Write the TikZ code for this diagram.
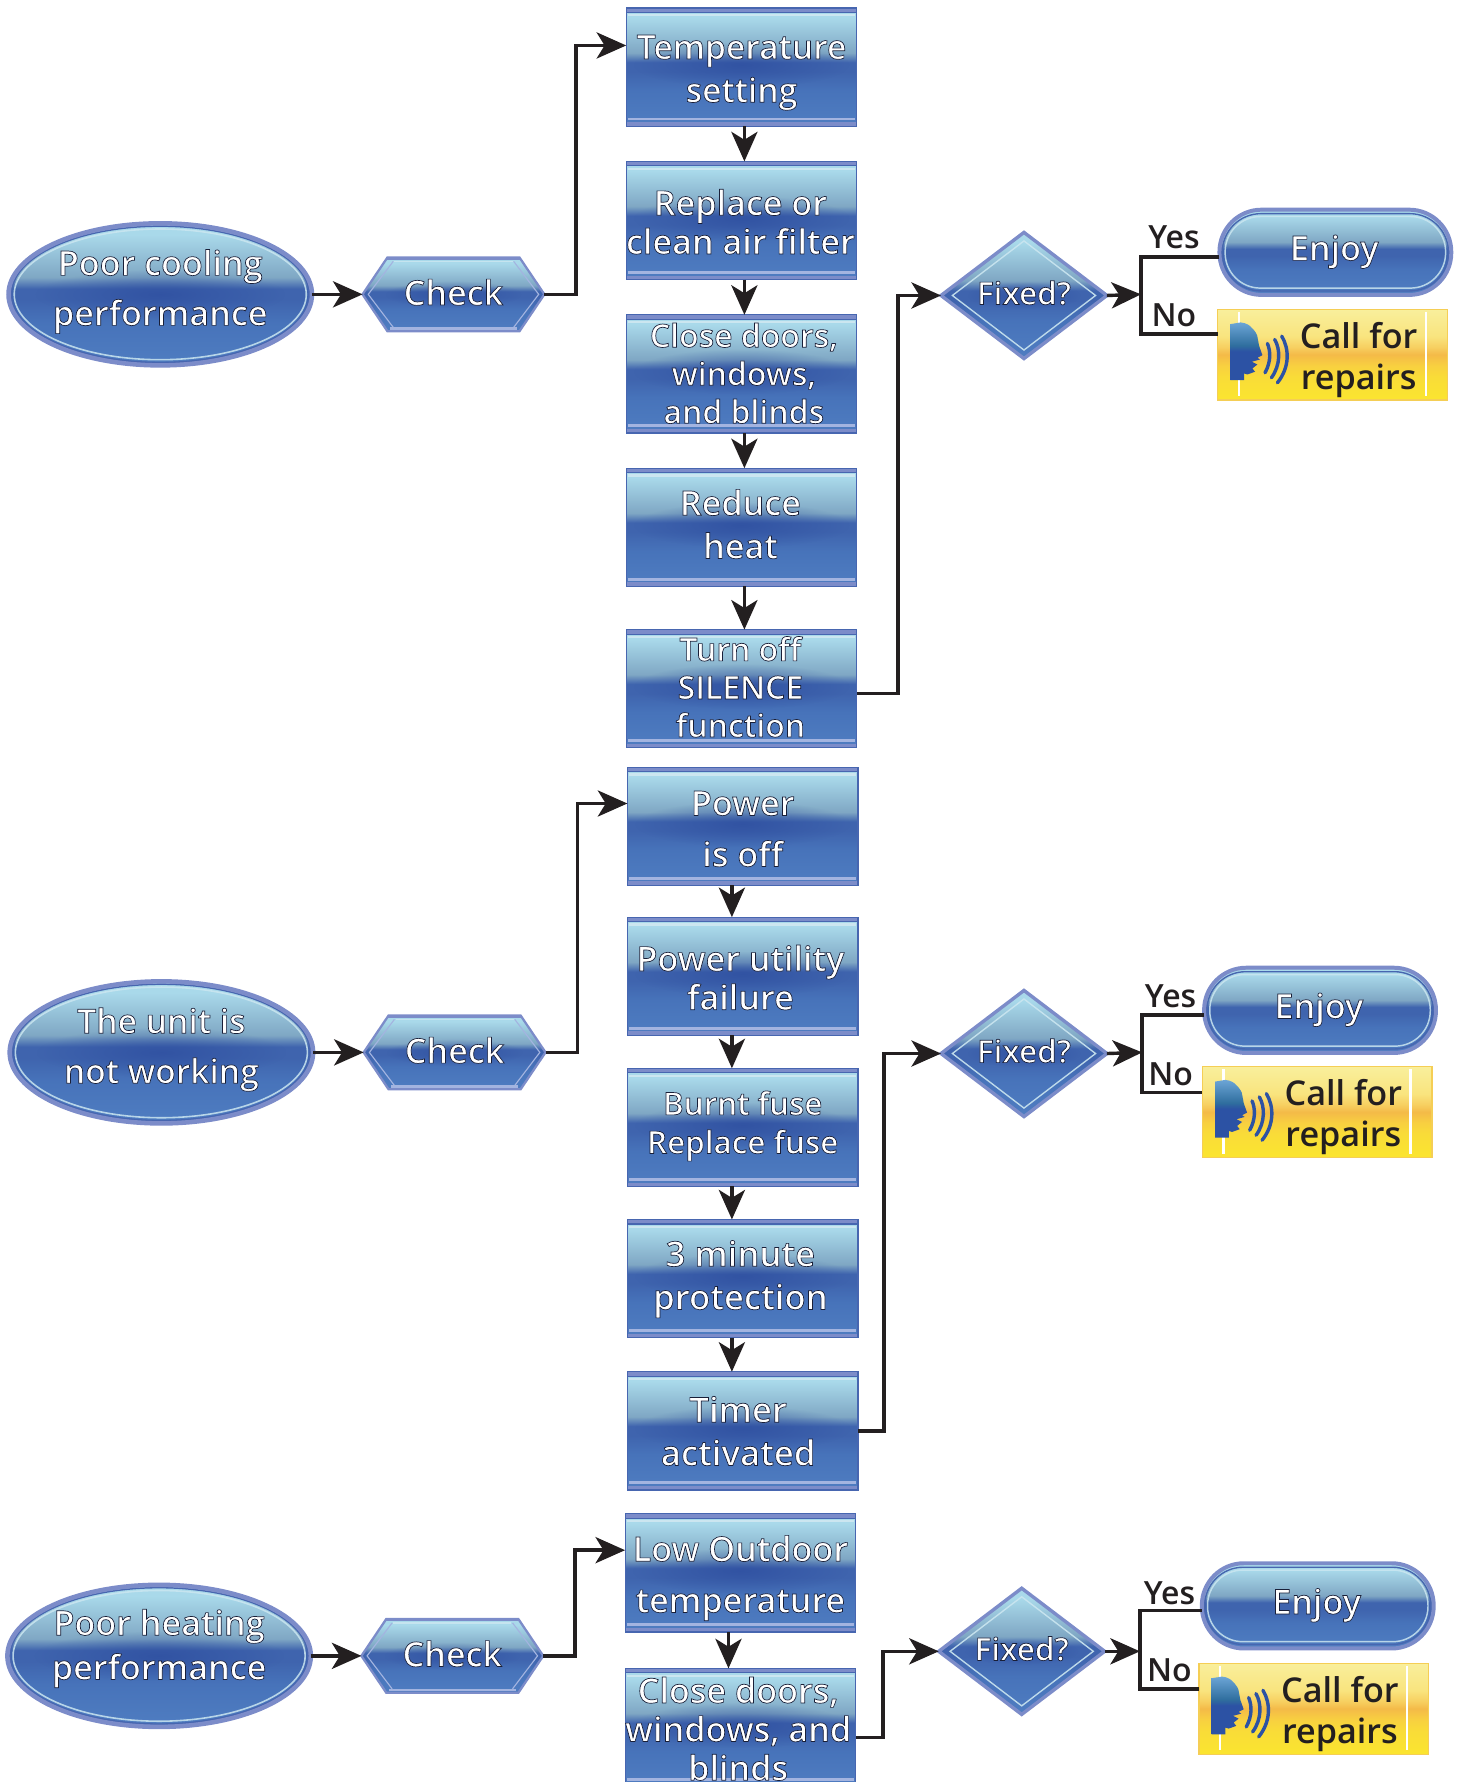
\documentclass[tikz,border=0pt]{standalone}
\usepackage{fontspec}
\setmainfont{Open Sans}
\IfFontExistsTF{Open Sans SemiBold}{\newfontfamily\gf[Scale=0.97]{Open Sans SemiBold}}{\IfFontExistsTF{Open Sans Semibold}{\newfontfamily\gf[Scale=0.97]{Open Sans Semibold}}{\newfontfamily\gf{Open Sans}}}
\usetikzlibrary{arrows.meta,shapes.geometric,shapes.symbols,fadings}
\definecolor{ink}{HTML}{231F20}
\definecolor{band}{HTML}{7C8CC9}
\definecolor{rim}{HTML}{4766B0}
\definecolor{hitop}{HTML}{CBE6F0}
\definecolor{hibot}{HTML}{A3B4E0}
\definecolor{blob}{HTML}{2C4C9E}
\definecolor{gA}{HTML}{A9D9EA}
\definecolor{gB}{HTML}{7FA7C4}
\definecolor{gC}{HTML}{3F64AE}
\definecolor{gD}{HTML}{4773BA}
\definecolor{gE}{HTML}{4F7DC1}
\definecolor{yA}{HTML}{F9EF9C}
\definecolor{yB}{HTML}{F9E47E}
\definecolor{yC}{HTML}{F4BA48}
\definecolor{yC2}{HTML}{F7CF60}
\definecolor{yD}{HTML}{F9DC38}
\definecolor{yD2}{HTML}{F8D040}
\definecolor{yE}{HTML}{FBE52F}
\definecolor{yRim}{HTML}{F5CE55}
\definecolor{hA}{HTML}{6CA5D6}
\definecolor{hB}{HTML}{2F6E9E}
\definecolor{hC}{HTML}{2C52A4}
\pgfdeclareverticalshading{gloss}{100bp}{color(0bp)=(gE);color(25bp)=(gE);color(40bp)=(gD);color(48bp)=(gC);color(52bp)=(gC);color(56bp)=(gB);color(71bp)=(gA);color(75bp)=(gA);color(100bp)=(gA)}
\pgfdeclareverticalshading{headgloss}{100bp}{color(0bp)=(hC);color(25bp)=(hC);color(50bp)=(hC);color(55bp)=(hB);color(75bp)=(hA);color(100bp)=(hA)}
\pgfdeclareverticalshading{yellowgloss}{100bp}{color(0bp)=(yE);color(25bp)=(yE);color(38bp)=(yD);color(44bp)=(yD2);color(50bp)=(yC);color(54bp)=(yC2);color(60bp)=(yB);color(75bp)=(yA);color(100bp)=(yA)}
\tikzfading[name=blobfade,inner color=transparent!30,outer color=transparent!100]
\newcommand\outl[1]{\special{pdf:code q 2 Tr 0.6 w 0.10 0.12 0.22 RG}#1\special{pdf:code Q}}
% [size], dx, dy (up), leading, lines
\newcommand\tx[5][31]{\raisebox{\dimexpr#3pt-6pt\relax}[0pt][0pt]{\makebox[0pt][c]{\hspace*{\dimexpr2\dimexpr#2pt\relax\relax}\color{white}\outl{\parbox[c]{300pt}{\centering\gf\fontsize{#1}{#4}\selectfont\rule{0pt}{22pt}#5\rule[-7pt]{0pt}{7pt}}}}}}
\newcommand\txb[4]{\raisebox{\dimexpr#2pt-6pt\relax}[0pt][0pt]{\makebox[0pt][c]{\hspace*{\dimexpr2\dimexpr#1pt\relax\relax}\color{ink}\parbox[c]{300pt}{\centering\gf\fontsize{31}{#3}\selectfont\rule{0pt}{22pt}#4\rule[-7pt]{0pt}{7pt}}}}}
\tikzset{
 boxbase/.style={shade,shading=gloss,inner sep=0pt,outer sep=0pt},
 stepbox/.style={boxbase,rectangle,draw=rim,line width=1pt,minimum width=203pt,minimum height=104pt,
  path picture={\begin{scope}[shift={(path picture bounding box.center)}]
   \fill[blob,path fading=blobfade] (0,-2) ellipse [x radius=95,y radius=20];
   \fill[band] (-102,-52) rectangle (102,-48.5);
   \fill[rim] (-102,-48.5) rectangle (102,-47.5);
   \fill[hitop] (-100,-46.5) rectangle (100,-44.5);
   \fill[band] (-102,52) rectangle (102,48.5);
   \fill[hibot] (-100,47) rectangle (100,44.5);
  \end{scope}}},
 oval/.style={boxbase,ellipse,draw=band,line width=4pt,minimum width=267pt,minimum height=125pt,
  path picture={\begin{scope}[shift={(path picture bounding box.center)}]
   \fill[blob,path fading=blobfade] (0,0) ellipse [x radius=110,y radius=22];
   \draw[rim,line width=1.3pt] (0,0) ellipse [x radius=131,y radius=60];
   \draw[hitop,line width=1.4pt,opacity=.85] (0,0) ellipse [x radius=128.5,y radius=57.5];
  \end{scope}}},
 hexbox/.style={boxbase,signal,signal to=east and west,signal pointer angle=112,draw=band,line width=2pt,minimum width=160pt,minimum height=65pt,
  path picture={\begin{scope}[shift={(path picture bounding box.center)}]
   \fill[blob,path fading=blobfade] (0,0) ellipse [x radius=60,y radius=12];
   \fill[band] (-70,-33) rectangle (70,-30.5);
   \fill[band] (-70,33) rectangle (70,31.5);
   \fill[hibot] (-56,29) rectangle (56,31);
   \draw[hitop,line width=1.2pt,opacity=.85] (-52,-29) -- (52,-29);
   \draw[hibot,line width=1pt] (-53,-29) -- (-75,0) -- (-53,29) (53,-29) -- (75,0) -- (53,29);
  \end{scope}}},
 decision/.style={boxbase,diamond,aspect=1.3,draw=band,line width=3pt,minimum width=146pt,minimum height=111pt,
  path picture={\begin{scope}[shift={(path picture bounding box.center)}]
   \fill[blob,path fading=blobfade] (0,0) ellipse [x radius=50,y radius=12];
   \draw[hitop,line width=1.2pt,opacity=.9] (0,-48) -- (63,0) -- (0,48) -- (-63,0) -- cycle;
  \end{scope}}},
 enjoybox/.style={boxbase,rectangle,rounded corners=37pt,draw=band,line width=3.5pt,minimum width=204pt,minimum height=75pt,
  path picture={\begin{scope}[shift={(path picture bounding box.center)}]
   \draw[rim,line width=1.2pt,rounded corners=34pt] (-99.5,-34) rectangle (99.5,34);
   \draw[hitop,line width=1.3pt,opacity=.85,rounded corners=31pt] (-97,-31.5) rectangle (97,31.5);
  \end{scope}}},
 callbox/.style={shade,shading=yellowgloss,inner sep=0pt,outer sep=0pt,rectangle,draw=yRim,line width=1pt,minimum width=202pt,minimum height=80pt,
  path picture={\begin{scope}[shift={(path picture bounding box.center)}]
   \draw[white,line width=2pt] (-82.5,-37.5) -- (-82.5,36.5) (82,-37.5) -- (82,36.5);
   \shade[shading=headgloss] (-89.9,22.5) -- (-89.9,-26.8) -- (-80.8,-28.3) .. controls (-76,-28) and (-72,-25) .. (-72,-24.5) .. controls (-68,-21) and (-66,-17) .. (-66.1,-15.7) -- (-64.6,-7.7) -- (-61.7,0.5) -- (-66.1,2.8) -- (-63.8,4.3) -- (-71.1,6.3) -- (-66.1,8.7) -- (-70.5,12.2) -- (-68.2,15.1) -- (-74.9,17.5) -- (-77.8,16.6) -- (-77.8,22.5) -- cycle;
   \draw[hC,line width=3pt,line cap=round] (-57.3,-9.8) .. controls (-54.5,-3) and (-54,6) .. (-59.4,16)
     (-50.9,-13.3) .. controls (-46,-5) and (-45.5,9) .. (-53.8,20.4)
     (-44.7,-16.2) .. controls (-38,-5) and (-37.5,11) .. (-48.5,24.8);
  \end{scope}}},
 link/.style={draw=ink,line width=3pt,-{Stealth[length=26pt,width=23pt,inset=7pt]}},
 wire/.style={draw=ink,line width=3pt},
 answer/.style={text=ink,font=\gf\fontsize{29}{30}\selectfont,inner sep=0pt,outer sep=0pt}
}
\begin{document}
\begin{tikzpicture}[x=1pt,y=-1pt]
\useasboundingbox (0,0) rectangle (1285.5,1568);
\clip (0,0) rectangle (1285.5,1568);
% group 1
\node[oval] (o1) at (141,259) {\tx{0}{6}{44}{Poor cooling\\performance}};
\node[hexbox] (k1) at (399,259) {\tx{0}{2}{30}{Check}};
\node[stepbox] (a1) at (652.5,59) {\tx[30.5]{0}{-1}{38}{Temperature\\setting}};
\node[stepbox] (a2) at (652.5,194) {\tx{-1}{-1}{34}{Replace or\\clean air filter}};
\node[stepbox] (a3) at (652.5,329) {\tx[29]{2}{1}{33.5}{Close doors,\\windows,\\and blinds}};
\node[stepbox] (a4) at (652.5,464) {\tx{-1}{3}{38}{Reduce\\heat}};
\node[stepbox] (a5) at (652.5,606) {\tx[29]{-1}{2}{33.5}{Turn off\\SILENCE\\function}};
\node[decision] (f1) at (901,260) {\tx[28.5]{0}{3}{30}{Fixed?}};
\node[enjoybox] (e1) at (1175,222) {\tx{-1}{4}{30}{Enjoy}};
\node[callbox] (c1) at (1172.5,312) {\txb{23}{-1}{36}{Call for\\repairs}};
\node[answer] (y1) at (1033,209) {Yes};
\node[answer] (n1) at (1033,277) {No};
\coordinate (j1) at (1004,259);
\draw[link] (o1.east) -- (k1.west);
\draw[link] (k1.east) -- ++(28,0) |- ([yshift=19pt]a1.west);
\draw[link] ([xshift=2.5pt]a1.south) -- ([xshift=2.5pt]a2.north);
\draw[link] ([xshift=2.5pt]a2.south) -- ([xshift=2.5pt]a3.north);
\draw[link] ([xshift=2.5pt]a3.south) -- ([xshift=2.5pt]a4.north);
\draw[link] ([xshift=2.5pt]a4.south) -- ([xshift=2.5pt]a5.north);
\draw[link] ([yshift=-4pt]a5.east) -- ++(36,0) |- (f1.west);
\draw[link] (f1.east) -- (j1);
\draw[wire] ([yshift=-4pt]e1.west) -| (j1) |- ([yshift=18pt]c1.west);
% group 2
\node[oval] (o2) at (142,926) {\tx[30.5]{0}{6}{44}{The unit is\\not working}};
\node[hexbox] (k2) at (400,926) {\tx{0}{2}{30}{Check}};
\node[stepbox] (b1) at (653.5,727) {\tx{0}{-2}{45}{Power\\is off}};
\node[stepbox] (b2) at (653.5,859) {\tx{-2}{-1}{34}{Power utility\\failure}};
\node[stepbox] (b3) at (653.5,992) {\tx[28.5]{0}{5}{34}{Burnt fuse\\Replace fuse}};
\node[stepbox] (b4) at (653.5,1125) {\tx[31.5]{-2}{3}{38}{3 minute\\protection}};
\node[stepbox] (b5) at (653.5,1259) {\tx[31.5]{-4}{0}{38}{Timer\\activated}};
\node[decision] (f2) at (901,927) {\tx[28.5]{0}{3}{30}{Fixed?}};
\node[enjoybox] (e2) at (1161.5,889) {\tx{-1}{4}{30}{Enjoy}};
\node[callbox] (c2) at (1159,978.5) {\txb{23}{-1}{36}{Call for\\repairs}};
\node[answer] (y2) at (1030,877) {Yes};
\node[answer] (n2) at (1030,945) {No};
\coordinate (j2) at (1005,926);
\draw[link] (o2.east) -- (k2.west);
\draw[link] (k2.east) -- ++(28,0) |- ([yshift=20pt]b1.west);
\draw[link] ([xshift=-9.5pt]b1.south) -- ([xshift=-9.5pt]b2.north);
\draw[link] ([xshift=-9.5pt]b2.south) -- ([xshift=-9.5pt]b3.north);
\draw[link] ([xshift=-9.5pt]b3.south) -- ([xshift=-9.5pt]b4.north);
\draw[link] ([xshift=-9.5pt]b4.south) -- ([xshift=-9.5pt]b5.north);
\draw[link] (b5.east) -- ++(23,0) |- (f2.west);
\draw[link] (f2.east) -- (j2);
\draw[wire] ([yshift=-4pt]e2.west) -| (j2) |- ([yshift=17pt]c2.west);
% group 3
\node[oval] (o3) at (140,1457) {\tx{0}{10}{39}{Poor heating\\performance}};
\node[hexbox] (k3) at (398,1457) {\tx{0}{2}{30}{Check}};
\node[stepbox] (d1) at (651.5,1384) {\tx{0}{-1}{45}{Low Outdoor\\temperature}};
\node[stepbox] (d2) at (651.5,1520) {\tx{-2}{-1}{34}{Close doors,\\windows, and\\blinds}};
\node[decision] (f3) at (899,1453) {\tx[28.5]{0}{3}{30}{Fixed?}};
\node[enjoybox] (e3) at (1159.5,1413) {\tx{-1}{4}{30}{Enjoy}};
\node[callbox] (c3) at (1156,1503.5) {\txb{23}{-1}{36}{Call for\\repairs}};
\node[answer] (y3) at (1029,1402) {Yes};
\node[answer] (n3) at (1029,1470) {No};
\coordinate (j3) at (1003,1453);
\draw[link] (o3.east) -- (k3.west);
\draw[link] (k3.east) -- ++(28,0) |- ([yshift=20pt]d1.west);
\draw[link] ([xshift=-10.5pt]d1.south) -- ([xshift=-10.5pt]d2.north);
\draw[link] ([yshift=-9pt]d2.east) -- ++(24,0) |- (f3.west);
\draw[link] (f3.east) -- (j3);
\draw[wire] ([yshift=-4pt]e3.west) -| (j3) |- ([yshift=17.5pt]c3.west);
\end{tikzpicture}
\end{document}
